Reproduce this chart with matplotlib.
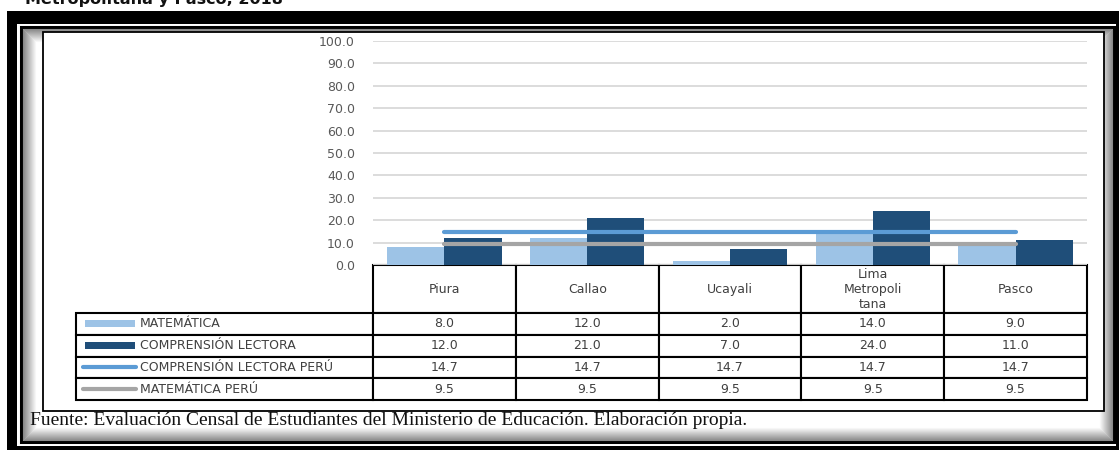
import matplotlib
matplotlib.use("Agg")
import matplotlib.pyplot as plt
from matplotlib.patches import Rectangle
from matplotlib.lines import Line2D
import numpy as np

# data
regiones = ["Piura", "Callao", "Ucayali", "Lima\nMetropoli\ntana", "Pasco"]
matematica = [8.0, 12.0, 2.0, 14.0, 9.0]
comprension = [12.0, 21.0, 7.0, 24.0, 11.0]
comprension_peru = [14.7, 14.7, 14.7, 14.7, 14.7]
matematica_peru = [9.5, 9.5, 9.5, 9.5, 9.5]
series_names = ["MATEMÁTICA", "COMPRENSIÓN LECTORA",
                "COMPRENSIÓN LECTORA PERÚ", "MATEMÁTICA PERÚ"]
yticks = np.arange(0, 101, 10)

c_mat = "#9DC3E6"
c_comp = "#1F4E79"
c_comp_peru = "#5B9BD5"
c_mat_peru = "#A5A5A5"

W, H = 1119, 450
fig = plt.figure(figsize=(W/100, H/100), dpi=100)


def box(x0, y0, x1, y1, **kw):
    # pixel box with top-left origin -> rectangle in figure fraction
    r = Rectangle((x0/W, 1 - y1/H), (x1 - x0)/W, (y1 - y0)/H,
                  transform=fig.transFigure, **kw)
    fig.add_artist(r)
    return r


# page frame
box(7, 11, 1119, 450, facecolor="black", edgecolor="none", zorder=-5)
box(17, 24, 1116, 446, facecolor="white", edgecolor="none", zorder=-5)
box(21, 27, 1114, 442, facecolor="white", edgecolor="black", lw=2.2, zorder=-4)
for k in range(1, 14):
    g = 0.5 + 0.5*k/14
    box(22 + k, 28 + k, 1113 - k, 441 - k, facecolor="none",
        edgecolor=(g, g, g), lw=0.8, zorder=-3)
box(43, 32, 1104, 411, facecolor="white", edgecolor="black", lw=1.3, zorder=-2)

# chart
ax = fig.add_axes([373/W, 1 - 265/H, 714/W, 224/H])
ax.set_facecolor("none")
x = np.arange(len(regiones))
ax.bar(x - 0.2, matematica, 0.4, color=c_mat, zorder=2)
ax.bar(x + 0.2, comprension, 0.4, color=c_comp, zorder=2)
ax.plot(x, comprension_peru, color=c_comp_peru, lw=3, solid_capstyle="round", zorder=3)
ax.plot(x, matematica_peru, color=c_mat_peru, lw=3, solid_capstyle="round", zorder=3)

ax.set_xlim(-0.5, 4.5)
ax.set_ylim(0, 100)
ax.set_yticks(yticks)
ax.set_yticklabels([f"{v:.1f}" for v in yticks], color="#595959", fontsize=9)
ax.set_xticks([])
ax.tick_params(axis="y", length=0, pad=13)
ax.grid(axis="y", color="#D9D9D9", lw=1.3, zorder=0)
ax.set_axisbelow(True)
for s in ax.spines.values():
    s.set_visible(False)

# data table under the chart (bbox covers the value columns, labels hang left)
cell_text = [[f"{v:.1f}" for v in s]
             for s in (matematica, comprension, comprension_peru, matematica_peru)]
tab = ax.table(cellText=cell_text, rowLabels=series_names, colLabels=regiones,
               colWidths=[142.8/1011]*5,
               cellLoc="center", rowLoc="left",
               bbox=[0, -135/224, 1, 135/224])
tab._autoColumns = []
tab.auto_set_font_size(False)
tab.set_fontsize(9)
for (r, c), cell in tab.get_celld().items():
    cell.set_linewidth(1.5)
    cell.set_edgecolor("black")
    cell.get_text().set_color("#404040")
    cell.set_height(48/135 if r == 0 else 21.75/135)
    if c == -1:
        cell.set_width(297/1011)
        cell.PAD = 64/297

# legend keys inside the row label cells
# (table positions settle on the second draw)
fig.canvas.draw()
fig.canvas.draw()
inv = fig.transFigure.inverted()
rend = fig.canvas.get_renderer()
for i, name in enumerate(series_names):
    bb = tab[i + 1, -1].get_window_extent(rend)
    (x0, y0), (x1, y1) = inv.transform([[bb.x0, bb.y0], [bb.x1, bb.y1]])
    ym = (y0 + y1)/2
    if i < 2:
        col = c_mat if i == 0 else c_comp
        fig.add_artist(Rectangle((x0 + 9/W, ym - 3.5/H), 50/W, 7/H, facecolor=col,
                                 edgecolor="none", transform=fig.transFigure, zorder=5))
    else:
        col = c_comp_peru if i == 2 else c_mat_peru
        fig.add_artist(Line2D([x0 + 7/W, x0 + 60/W], [ym, ym], color=col, lw=3,
                              solid_capstyle="round", transform=fig.transFigure, zorder=5))

fig.text(25/W, 1 - 4/H, "Metropolitana y Pasco, 2018", fontsize=11.5,
         fontweight="bold", va="baseline", color="#111111")
fig.text(30/W, 1 - 425/H,
         "Fuente: Evaluación Censal de Estudiantes del Ministerio de Educación. Elaboración propia.",
         family="Liberation Serif", fontsize=14, va="baseline", color="#111111")

fig.savefig("out.png", dpi=100)
